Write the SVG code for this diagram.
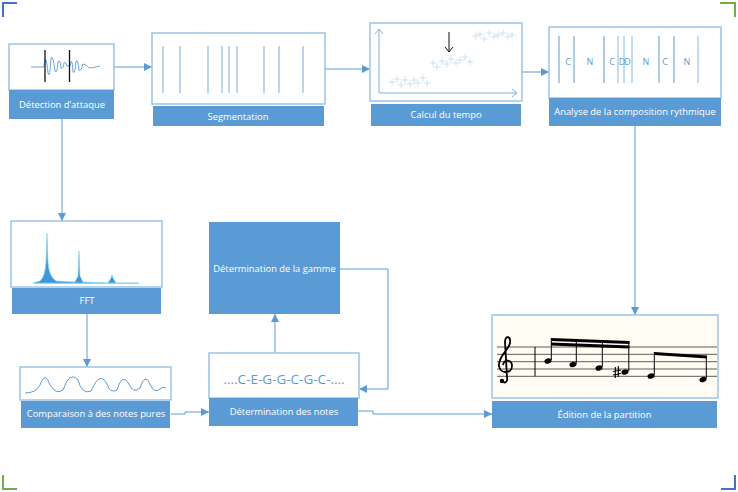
<svg xmlns="http://www.w3.org/2000/svg" width="738" height="492" viewBox="0 0 738 492">
<defs>
<style>
.box{fill:#fff;stroke:#9dc3e6;stroke-width:1.5}
.bar{fill:#5b9bd5}
.lbl{font-family:"Open Sans","Noto Sans",sans-serif;font-size:9.4px;fill:#fff;text-anchor:middle}
.con{fill:none;stroke:#5b9bd5;stroke-width:1}
.seg{stroke:#8fb8e0;stroke-width:1.2}
.cr{stroke:#bdd7ee;stroke-width:0.7}
.ltr{font-family:"Open Sans","Noto Sans",sans-serif;font-size:9px;fill:#5b9bd5;text-anchor:middle}
.mus{stroke:#000;fill:none}
</style>
<marker id="ah" viewBox="0 0 10 10" refX="10" refY="5" markerWidth="8" markerHeight="8" markerUnits="userSpaceOnUse" orient="auto">
<path d="M0,0 L10,5 L0,10 Z" fill="#5b9bd5"/>
</marker>
<symbol id="plus" overflow="visible"><path d="M-3.5,0 H3.5 M0,-3.5 V3.5" class="cr"/></symbol>
</defs>
<rect width="738" height="492" fill="#fff"/>

<!-- corner marks -->
<path d="M3,17 V3 H17" fill="none" stroke="#4472c4" stroke-width="2"/>
<path d="M720,3 H735 V17" fill="none" stroke="#70ad47" stroke-width="2"/>
<path d="M3,475 V489 H17" fill="none" stroke="#70ad47" stroke-width="2"/>
<path d="M721,489 H735 V475" fill="none" stroke="#4472c4" stroke-width="2"/>

<g id="connectors">
<path class="con" d="M114,67 H152" marker-end="url(#ah)"/>
<path class="con" d="M325,69 H370" marker-end="url(#ah)"/>
<path class="con" d="M522,72 H549" marker-end="url(#ah)"/>
<path class="con" d="M635,126 V315" marker-end="url(#ah)"/>
<path class="con" d="M62,119 V221" marker-end="url(#ah)"/>
<path class="con" d="M87,314 V367" marker-end="url(#ah)"/>
<path class="con" d="M171,414 H185 V412 H209" marker-end="url(#ah)"/>
<path class="con" d="M275,353 V314" marker-end="url(#ah)"/>
<path class="con" d="M340,269 H388 V389 H359" marker-end="url(#ah)"/>
<path class="con" d="M358,411 H373 V414 H492" marker-end="url(#ah)"/>
</g>

<g id="detection">
<rect class="box" x="9" y="44" width="105" height="46"/>
<path d="M31,67 L44,67 Q46,50 48,73 Q50,80 51,58 Q53,54 55,71 Q57,75 58,62 Q60,58 61,68 Q63,70 64,63 Q66,61 67,66 L70,66 Q72,54 73,72 Q75,75 76,61 Q78,59 79,70 Q81,72 83,64 Q86,64 89,68 Q93,68 100,66" fill="none" stroke="#5b9bd5" stroke-width="0.9"/>
<path d="M45,50 V82 M69.5,50 V82" stroke="#111" stroke-width="1.3"/>
<rect class="bar" x="9" y="90" width="105" height="29"/>
<text class="lbl" x="62" y="108">Détection d’attaque</text>
</g>

<g id="segmentation">
<rect class="box" x="152" y="33" width="173" height="71"/>
<path class="seg" d="M163,46V93 M180,46V93 M208,46V93 M222,46V93 M229,46V93 M237,46V93 M264,46V93 M279,46V93 M303,46V93"/>
<rect class="bar" x="153" y="106" width="171" height="20"/>
<text class="lbl" x="238" y="120">Segmentation</text>
</g>

<g id="tempo">
<rect class="box" x="370" y="23" width="152" height="78"/>
<path d="M379,93 V29 M375,34 L379,29 L383,34 M379,93 H517 M512,89 L517,93 L512,97" fill="none" stroke="#7fb0de" stroke-width="1"/>
<path d="M449,32 V52 M445,47 L449,52 L453,47" fill="none" stroke="#111" stroke-width="1"/>
<use href="#plus" x="392" y="82"/><use href="#plus" x="397" y="79"/><use href="#plus" x="401" y="85"/>
<use href="#plus" x="405" y="80"/><use href="#plus" x="410" y="84"/><use href="#plus" x="414" y="80"/>
<use href="#plus" x="418" y="83"/><use href="#plus" x="423" y="78"/><use href="#plus" x="427" y="83"/>
<use href="#plus" x="433" y="63"/><use href="#plus" x="437" y="67"/><use href="#plus" x="442" y="61"/>
<use href="#plus" x="447" y="64"/><use href="#plus" x="451" y="59"/><use href="#plus" x="456" y="63"/>
<use href="#plus" x="460" y="60"/><use href="#plus" x="465" y="57"/><use href="#plus" x="470" y="62"/>
<use href="#plus" x="476" y="36"/><use href="#plus" x="480" y="34"/><use href="#plus" x="484" y="39"/>
<use href="#plus" x="489" y="33"/><use href="#plus" x="494" y="37"/><use href="#plus" x="498" y="35"/>
<use href="#plus" x="503" y="33"/><use href="#plus" x="508" y="37"/><use href="#plus" x="512" y="35"/>
<rect class="bar" x="371" y="104" width="150" height="22"/>
<text class="lbl" x="446" y="118">Calcul du tempo</text>
</g>

<g id="rythme">
<rect class="box" x="549" y="27" width="172" height="71"/>
<path d="M559,36V83 M574,36V83 M604,36V83 M659,36V83 M674,36V83" stroke="#5b9bd5" stroke-width="1"/>
<path d="M618,36V83 M624,36V83 M632,36V83 M698,36V83" stroke="#9dc3e6" stroke-width="1.2"/>
<text class="ltr" x="568" y="65">C</text>
<text class="ltr" x="590" y="65">N</text>
<text class="ltr" x="612" y="65">C</text>
<text class="ltr" x="622" y="65">D</text>
<text class="ltr" x="627.5" y="65">D</text>
<text class="ltr" x="646" y="65">N</text>
<text class="ltr" x="665" y="65">C</text>
<text class="ltr" x="687" y="65">N</text>
<rect class="bar" x="549" y="98" width="172" height="28"/>
<text class="lbl" x="635" y="115">Analyse de la composition rythmique</text>
</g>

<g id="fft">
<rect class="box" x="11" y="221" width="151" height="66"/>
<path d="M33,283 L40,281 Q45,277 46,262 L47,233 L48,262 Q49,277 56,281 L75,282 L78,276 L79,251 L80,276 L83,282 L108,283 L111,278 L112,275 L113,278 L116,283 L139,283 Z" fill="#3a98dc" stroke="#8fd6ea" stroke-width="0.7"/>
<path d="M34,283.5 H139" stroke="#9dd5ea" stroke-width="1"/>
<rect class="bar" x="12" y="288" width="149" height="26"/>
<text class="lbl" x="87" y="304">FFT</text>
</g>

<g id="comparaison">
<rect class="box" x="20" y="367" width="151" height="33"/>
<path d="M25,393 Q36,393 40,385 Q45,370 50,385 Q56,395 63,390 Q70,370 78,380 Q82,395 91,391 Q100,370 107,384 Q110,394 117,390 Q122,372 129,384 Q133,394 140,388 Q145,372 150,384 Q154,394 160,389 Q163,386 166,388" fill="none" stroke="#5b9bd5" stroke-width="1"/>
<rect class="bar" x="21" y="401" width="149" height="27"/>
<text class="lbl" x="96" y="417">Comparaison à des notes pures</text>
</g>

<g id="notes">
<rect class="box" x="209" y="353" width="150" height="45"/>
<text x="284" y="384" font-family="'Open Sans','Noto Sans',sans-serif" font-size="13.5" fill="#5b9bd5" text-anchor="middle">....C-E-G-G-C-G-C-....</text>
<rect class="bar" x="209" y="398" width="149" height="28"/>
<text class="lbl" x="284" y="415">Détermination des notes</text>
</g>

<g id="gamme">
<rect class="bar" x="209" y="222" width="131" height="92"/>
<text class="lbl" x="274.5" y="272">Détermination de la gamme</text>
</g>

<g id="partition">
<rect x="492" y="315" width="226" height="83" fill="#fffdf3" stroke="#9dc3e6" stroke-width="1.5"/>
<path d="M497,347H717 M497,354.3H717 M497,361.7H717 M497,369H717 M497,376.3H717" stroke="#333" stroke-width="0.8"/>
<path d="M535,347V376.3" stroke="#000" stroke-width="1"/>
<path class="mus" stroke-width="1.8" d="M502,381 C505,384 508,382 507,377 L505,342 C505,335 511,336 510,343 C509,350 498,356 499,366 C500,374 512,374 512,366 C512,360 504,358 503,365"/>
<circle cx="502" cy="381" r="2.2" fill="#000"/>
<g fill="#000">
<ellipse cx="548" cy="361" rx="3.6" ry="2.6" transform="rotate(-20 548 361)"/>
<ellipse cx="573" cy="364.5" rx="3.6" ry="2.6" transform="rotate(-20 573 364.5)"/>
<ellipse cx="599" cy="368" rx="3.6" ry="2.6" transform="rotate(-20 599 368)"/>
<ellipse cx="625" cy="372" rx="3.6" ry="2.6" transform="rotate(-20 625 372)"/>
<ellipse cx="651" cy="376" rx="3.6" ry="2.6" transform="rotate(-20 651 376)"/>
<ellipse cx="703" cy="379.5" rx="3.6" ry="2.6" transform="rotate(-20 703 379.5)"/>
<path d="M551,338 L629.5,341 L629.5,344 L551,341 Z"/>
<path d="M551,342.5 L629.5,345.5 L629.5,348.5 L551,345.5 Z"/>
<path d="M654,352 L707,355.5 L707,358.5 L654,355 Z"/>
</g>
<path d="M551.3,338V360 M576.3,339V363.5 M602.3,340V367 M628.8,341V371 M654.3,352V375 M706.3,355.5V378.5" stroke="#000" stroke-width="1"/>
<path d="M615.3,367V378 M618.3,366V377 M613,371.5L621,370 M613,375L621,373.5" stroke="#000" stroke-width="1.1"/>
<rect class="bar" x="492" y="401" width="225" height="27"/>
<text class="lbl" x="604.5" y="418">Édition de la partition</text>
</g>
</svg>
